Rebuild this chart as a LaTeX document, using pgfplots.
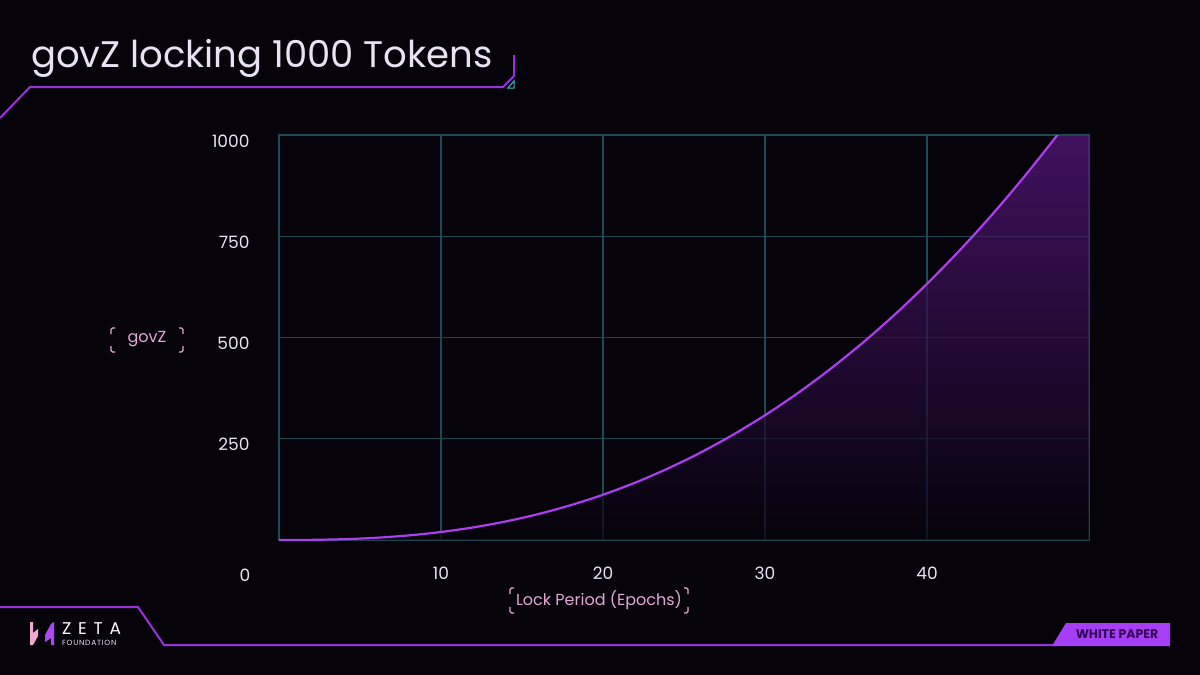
\documentclass[border=0pt]{standalone}
\usepackage{pgfplots}
\pgfplotsset{compat=1.18}
\usepackage{fontspec}
\setmainfont{Poppins}
\definecolor{bg}{RGB}{6,3,11}
\definecolor{gridc}{RGB}{30,72,84}
\definecolor{curve}{RGB}{172,62,238}
\definecolor{deco}{RGB}{150,50,215}
\definecolor{pinkl}{RGB}{228,168,212}
\definecolor{tickc}{RGB}{232,226,242}
\definecolor{fillc}{RGB}{98,26,142}
\definecolor{badge}{RGB}{165,62,245}
\definecolor{badgetxt}{RGB}{50,8,85}
\definecolor{cyanc}{RGB}{70,180,200}
\definecolor{logopink}{RGB}{240,170,210}
\definecolor{logopurple}{RGB}{175,70,245}
\begin{document}
\begin{tikzpicture}
\begin{scope}[x=1pt,y=-1pt]
\fill[bg] (0,0) rectangle (1200,675);
\useasboundingbox (0,0) rectangle (1200,675);
% decorations
\draw[deco, line width=2pt] (0,118) -- (30,87) -- (503,87) -- (514,76) -- (514,55);
\draw[cyanc, line width=1pt] (508,88) -- (514,88) -- (514,81) -- cycle;
\draw[deco, line width=2pt] (0,607) -- (138,607) -- (164,645) -- (1055,645);
\fill[badge] (1052,646) -- (1066,623) -- (1170,623) -- (1170,646) -- cycle;
\node[badgetxt, font=\fontsize{12.5}{14}\selectfont\bfseries] at (1117,634.5) {WHITE PAPER};
% logo
\fill[logopink] (30,622) -- (33,622) -- (33,633) -- (38,629) -- (38,636) -- (33,645) -- (30,645) -- cycle;
\fill[logopurple] (54,622) -- (54,645) -- (51,645) -- (51,638) -- (45,642) -- (45,635) -- (51,624) -- cycle;
\node[white, anchor=west, inner sep=0pt, font=\fontsize{17}{18}\selectfont\addfontfeatures{LetterSpace=40}] at (62,629) {ZETA};
\node[tickc, anchor=west, inner sep=0pt, font=\fontsize{7.5}{8}\selectfont\addfontfeatures{LetterSpace=10}] at (62,642.5) {FOUNDATION};
% title
\node[tickc, anchor=base west, inner sep=0pt, font=\fontsize{37}{40}\selectfont] at (31,67) {govZ locking 1000 Tokens};
% axis labels with corner brackets
\node[pinkl, font=\fontsize{16}{18}\selectfont] at (147,339) {govZ};
\node[pinkl, font=\fontsize{16}{18}\selectfont] at (599,600) {Lock Period (Epochs)};
\begin{scope}[pinkl, line width=1.3pt, rounded corners=1.5pt]
\draw (115,328) -- (111,328) -- (111,334);
\draw (111,346) -- (111,352) -- (115,352);
\draw (179,328) -- (183,328) -- (183,334);
\draw (183,346) -- (183,352) -- (179,352);
\draw (514,588) -- (510,588) -- (510,594);
\draw (510,607) -- (510,613) -- (514,613);
\draw (684,588) -- (688,588) -- (688,594);
\draw (688,607) -- (688,613) -- (684,613);
\end{scope}
\node[tickc, font=\fontsize{17}{18}\selectfont] at (245,575) {0};
\end{scope}
\begin{axis}[
  at={(279pt,-540pt)}, anchor=south west,
  scale only axis, width=810pt, height=405pt,
  xmin=0, xmax=50, ymin=0, ymax=1000,
  xtick={10,20,30,40}, ytick={250,500,750,1000},
  grid=major, grid style={gridc, line width=1.3pt},
  axis line style={gridc, line width=1.3pt},
  major tick length=0pt,
  tick label style={tickc, font=\fontsize{17}{18}\selectfont},
  /pgf/number format/assume math mode=true,
  /pgf/number format/1000 sep={},
  yticklabel style={xshift=-26pt, yshift=-6pt},
  xticklabel style={yshift=-23pt},
  clip=true,
]
\addplot[draw=none, top color=fillc, bottom color=bg, fill opacity=0.7, smooth] table {
x y
0 0
2 0.354
4 2
6 5.51
8 11.31
10 19.76
12 31.18
14 45.83
16 64
18 85.91
20 111.8
22 141.9
24 176.4
26 215.4
28 259.3
30 308.1
32 362.0
34 421.3
36 486
38 556.3
40 632.5
42 714.5
44 802.6
46 897
48 997.7
50 1104.9
} \closedcycle;
\addplot[curve, line width=2.2pt, smooth] table {
x y
0 0
2 0.354
4 2
6 5.51
8 11.31
10 19.76
12 31.18
14 45.83
16 64
18 85.91
20 111.8
22 141.9
24 176.4
26 215.4
28 259.3
30 308.1
32 362.0
34 421.3
36 486
38 556.3
40 632.5
42 714.5
44 802.6
46 897
48 997.7
50 1104.9
};
\end{axis}
\end{tikzpicture}
\end{document}
